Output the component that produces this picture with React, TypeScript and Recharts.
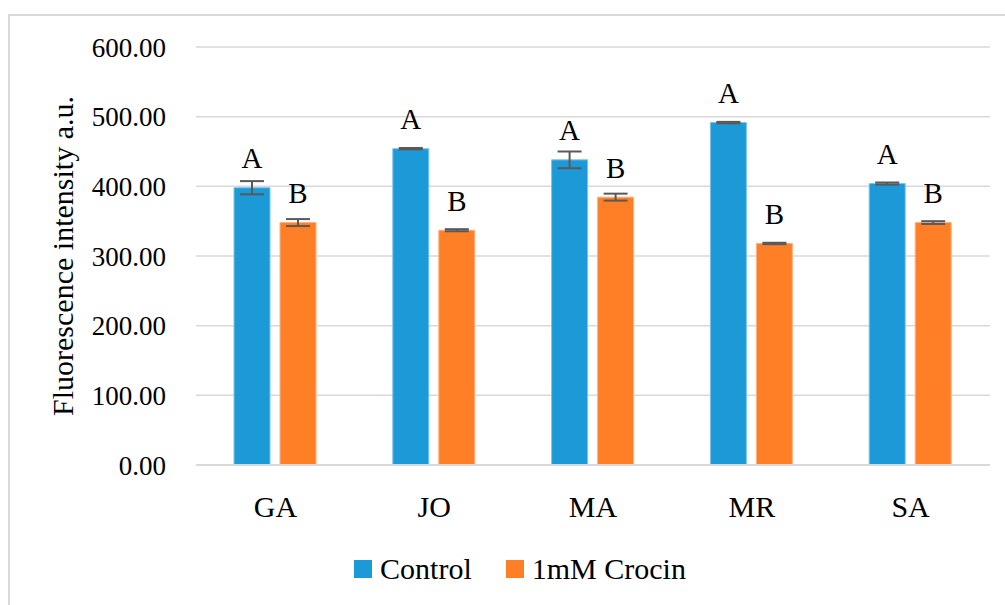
import React from 'react';
import { BarChart, Bar, XAxis, YAxis, CartesianGrid, ErrorBar, LabelList, Legend, Label } from 'recharts';

const categories = ['GA', 'JO', 'MA', 'MR', 'SA'];
const controlValues = [398, 454, 438, 491.5, 404];
const controlErrors = [9.5, 1, 12, 1, 1.5];
const crocinValues = [348, 337, 384.5, 318, 348];
const crocinErrors = [5, 1.5, 5, 1, 2];
const controlLetters = ['A', 'A', 'A', 'A', 'A'];
const crocinLetters = ['B', 'B', 'B', 'B', 'B'];
const yTicks = [0, 100, 200, 300, 400, 500, 600];
const seriesNames = ['Control', '1mM Crocin'];
const yTitle = 'Fluorescence intensity a.u.';

const BLUE = '#1B9AD7';
const ORANGE = '#FF7F27';
const FONT = "'Liberation Serif', 'Times New Roman', serif";

const data = categories.map((c, i) => ({
  cat: c,
  control: controlValues[i],
  controlErr: controlErrors[i],
  crocin: crocinValues[i],
  crocinErr: crocinErrors[i],
  controlLetter: controlLetters[i],
  crocinLetter: crocinLetters[i],
}));

const renderLetter = (props: any) => {
  const { x, y, width, value } = props;
  return (
    <text
      x={Number(x) + Number(width) / 2}
      y={Number(y) - 19.5}
      textAnchor="middle"
      fontSize={29}
      style={{ fontFamily: FONT }}
      fill="#000"
    >
      {value}
    </text>
  );
};

const XTick = (props: any) => {
  const { x, y, payload } = props;
  return (
    <text x={x} y={Number(y) + 21} textAnchor="middle" fontSize={30} style={{ fontFamily: FONT }} fill="#000">
      {payload.value}
    </text>
  );
};

const YTick = (props: any) => {
  const { x, y, payload } = props;
  return (
    <text x={x} y={Number(y) + 9.5} textAnchor="end" fontSize={27} style={{ fontFamily: FONT }} fill="#000">
      {Number(payload.value).toFixed(2)}
    </text>
  );
};

const renderTitle = (props: any) => {
  const vb = props.viewBox || {};
  const cy = (vb.y ?? 47) + (vb.height ?? 418) / 2;
  const bx = 73;
  return (
    <text
      x={bx}
      y={cy}
      transform={`rotate(-90, ${bx}, ${cy})`}
      textAnchor="middle"
      fontSize={30}
      style={{ fontFamily: FONT }}
      fill="#000"
    >
      {yTitle}
    </text>
  );
};

const renderLegend = () => {
  const items = [
    { name: seriesNames[0], color: BLUE },
    { name: seriesNames[1], color: ORANGE },
  ];
  return (
    <div
      style={{
        display: 'flex',
        justifyContent: 'center',
        alignItems: 'center',
        height: 40,
        fontFamily: FONT,
        fontSize: 30,
        color: '#000',
      }}
    >
      {items.map((it, i) => (
        <div key={it.name} style={{ display: 'flex', alignItems: 'center', marginLeft: i === 0 ? 0 : 34 }}>
          <span style={{ display: 'inline-block', width: 18, height: 18, background: it.color, marginRight: 8 }} />
          <span style={{ lineHeight: '40px', fontFamily: FONT }}>{it.name}</span>
        </div>
      ))}
    </div>
  );
};

export default function App() {
  return (
    <div
      style={{
        position: 'absolute',
        left: 0,
        top: 0,
        width: 1005,
        height: 605,
        overflow: 'hidden',
        background: '#fff',
        fontFamily: FONT,
      }}
    >
      <div
        style={{
          position: 'absolute',
          left: 8,
          top: 14,
          width: 1100,
          height: 700,
          borderLeft: '2px solid #d9d9d9',
          borderTop: '2px solid #d9d9d9',
        }}
      />
      <div style={{ position: 'absolute', left: 0, top: 0 }}>
        <BarChart
          width={1005}
          height={605}
          data={data}
          margin={{ top: 47, right: 15, bottom: 110, left: 0 }}
          barSize={36}
          barGap={10}
          style={{ fontFamily: FONT }}
        >
          <CartesianGrid vertical={false} stroke="#d9d9d9" strokeWidth={1.5} />
          <XAxis
            dataKey="cat"
            height={30}
            axisLine={{ stroke: '#d9d9d9', strokeWidth: 2 }}
            tickLine={false}
            tickSize={0}
            tickMargin={31}
            tick={<XTick />}
            interval={0}
          />
          <YAxis
            width={196}
            domain={[0, 600]}
            ticks={yTicks}
            axisLine={false}
            tickLine={false}
            tickSize={0}
            tickMargin={30}
            tick={<YTick />}
          >
            <Label content={renderTitle} />
          </YAxis>
          <Legend
            layout="horizontal"
            verticalAlign="middle"
            align="center"
            content={renderLegend}
            wrapperStyle={{ position: 'absolute', top: 549, left: 0, width: 1040, height: 40 }}
          />
          <Bar dataKey="control" name={seriesNames[0]} fill={BLUE} stroke="#7cc3ea" strokeWidth={1} isAnimationActive={false}>
            <ErrorBar dataKey="controlErr" width={12} stroke="#595959" strokeWidth={2} direction="y" isAnimationActive={false} />
            <LabelList dataKey="controlLetter" content={renderLetter} />
          </Bar>
          <Bar dataKey="crocin" name={seriesNames[1]} fill={ORANGE} stroke="#ffb27f" strokeWidth={1} isAnimationActive={false}>
            <ErrorBar dataKey="crocinErr" width={12} stroke="#595959" strokeWidth={2} direction="y" isAnimationActive={false} />
            <LabelList dataKey="crocinLetter" content={renderLetter} />
          </Bar>
        </BarChart>
      </div>
    </div>
  );
}
